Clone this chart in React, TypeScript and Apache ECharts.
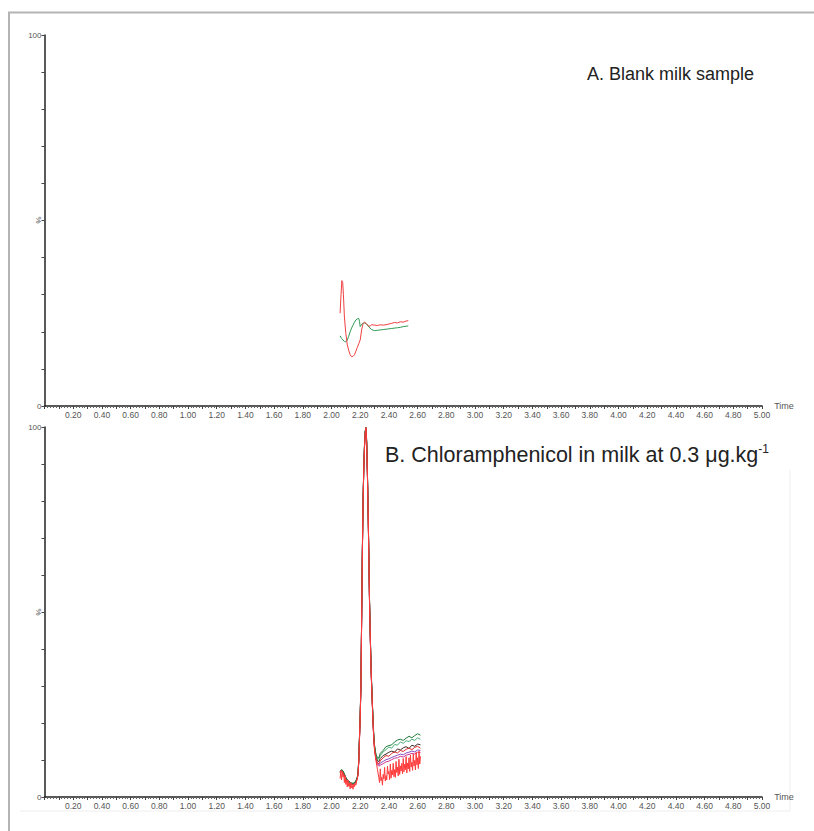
import React, { useEffect, useRef } from "react";
import * as echarts from "echarts";

// ---------- Data ----------
const X_MIN = 0;
const X_MAX = 5;
const Y_MAX = 100;

// Panel A: blank milk sample (time, % intensity)
const A_RED: number[][] = [
  [2.06, 25], [2.065, 29], [2.072, 33.8], [2.078, 33.3], [2.083, 30], [2.09, 24],
  [2.1, 19.5], [2.11, 16.5], [2.12, 15], [2.13, 13.8], [2.14, 13.3], [2.15, 13.4],
  [2.16, 13.8], [2.17, 14.8], [2.18, 15.8], [2.19, 16.8], [2.2, 17.8], [2.21, 20.5],
  [2.22, 22.2], [2.23, 22.6], [2.24, 22.3], [2.25, 21.9], [2.26, 21.5], [2.27, 21.6],
  [2.28, 21.9], [2.3, 21.8], [2.32, 21.7], [2.34, 21.9], [2.36, 21.8], [2.38, 21.9],
  [2.4, 22.1], [2.42, 22.3], [2.44, 22.5], [2.46, 22.4], [2.48, 22.7], [2.5, 22.6],
  [2.52, 22.9], [2.535, 23],
];
const A_GREEN: number[][] = [
  [2.06, 18.9], [2.07, 18.2], [2.08, 17.8], [2.09, 17.4], [2.1, 17.3], [2.11, 17.8],
  [2.12, 18.8], [2.13, 20], [2.14, 21], [2.15, 21.8], [2.16, 22.6], [2.17, 23.2],
  [2.18, 23.5], [2.19, 23.6], [2.195, 22.8], [2.2, 21.4], [2.21, 22], [2.22, 22.3],
  [2.23, 22.4], [2.245, 22.1], [2.26, 21.3], [2.28, 20.6], [2.3, 20.3], [2.32, 20.4],
  [2.34, 20.5], [2.36, 20.6], [2.38, 20.7], [2.4, 20.8], [2.42, 20.9], [2.44, 21.0],
  [2.46, 21.1], [2.48, 21.2], [2.5, 21.4], [2.52, 21.5], [2.535, 21.6],
];

// Panel B: chloramphenicol 0.3 µg/kg, several transitions sharing a time grid
const B_X = [
  2.06, 2.07, 2.08, 2.09, 2.1, 2.11, 2.12, 2.13, 2.14, 2.15, 2.16, 2.17, 2.18, 2.185,
  2.19, 2.195, 2.2, 2.205, 2.21, 2.215, 2.22, 2.225, 2.23, 2.235, 2.24, 2.245, 2.25,
  2.255, 2.26, 2.265, 2.27, 2.275, 2.28, 2.285, 2.29, 2.295, 2.3, 2.31, 2.32, 2.33,
  2.34, 2.36, 2.38, 2.4, 2.42, 2.44, 2.46, 2.48, 2.5, 2.52, 2.54, 2.56, 2.58, 2.6, 2.62,
];
const B_GREEN = [
  6.9, 7.4, 7.1, 6.2, 5.3, 4.7, 4.3, 4.0, 3.8, 3.7, 3.9, 4.4, 5.4, 6.8, 10.2, 16.5, 22.5,
  30.5, 48.5, 66.5, 80.5, 89.5, 95.5, 99, 100, 96.5, 88.5, 78.5, 66.5, 53.5, 44.5, 36.5,
  30.5, 25.5, 20.5, 16.5, 14, 11.5, 10.6, 10.6,
  11.8, 12.6, 13.6, 13.9, 14.1, 14.9, 15.4, 15.6, 15.3, 15.9, 16.4, 16.0, 16.6, 17.1, 16.7,
];
const B_TEAL = [
  6.7, 7.2, 6.9, 6.0, 5.1, 4.5, 4.1, 3.8, 3.6, 3.5, 3.7, 4.2, 5.2, 6.5, 9.8, 16, 22, 30,
  48, 66, 80, 89, 95, 98.8, 99.6, 96, 88, 78, 66, 53, 44, 36, 30, 25, 20, 16, 13.6, 11.2,
  10.2, 10.3,
  11.2, 12.2, 12.8, 13.5, 13.2, 14.2, 14.0, 14.9, 14.5, 15.2, 15.0, 15.6, 15.3, 16.0, 15.6,
];
const B_BLACK = [
  6.8, 7.3, 7.0, 6.1, 5.2, 4.6, 4.2, 3.9, 3.7, 3.6, 3.8, 4.3, 5.3, 6.6, 10, 16.2, 22.2,
  30.2, 48.2, 66.2, 80.2, 89.2, 95.2, 98.9, 99.8, 96.2, 88.2, 78.2, 66.2, 53.2, 44.2, 36.2,
  30.2, 25.2, 20.2, 16.2, 13.7, 11, 9.8, 9.6,
  10.4, 11.2, 11.6, 12.1, 12.4, 12.1, 13.0, 12.7, 13.3, 13.6, 13.1, 14.0, 13.7, 14.3, 14.1,
];
const B_PURPLE = [
  6.6, 7.1, 6.8, 5.9, 5.0, 4.4, 4.0, 3.7, 3.5, 3.4, 3.6, 4.1, 5.1, 6.4, 9.7, 15.8, 21.8,
  29.8, 47.8, 65.8, 79.8, 88.8, 94.8, 98.6, 99.5, 95.8, 87.8, 77.8, 65.8, 52.8, 43.8, 35.8,
  29.8, 24.8, 19.8, 15.8, 13.2, 10.4, 9.0, 8.6,
  9.2, 9.6, 10.1, 10.3, 10.7, 11.0, 11.3, 11.6, 11.4, 11.9, 12.1, 12.4, 12.2, 12.7, 12.6,
];
const B_MAGENTA = [
  6.5, 7.0, 6.7, 5.8, 4.9, 4.3, 3.9, 3.6, 3.4, 3.3, 3.5, 4.0, 5.0, 6.3, 9.6, 15.7, 21.7,
  29.7, 47.7, 65.7, 79.7, 88.7, 94.7, 98.5, 99.4, 95.7, 87.7, 77.7, 65.7, 52.7, 43.7, 35.7,
  29.7, 24.7, 19.7, 15.7, 13.0, 10.1, 8.7, 8.3,
  8.6, 9.0, 9.5, 9.7, 10.1, 10.5, 10.6, 11.0, 10.8, 11.3, 11.5, 11.8, 11.6, 12.1, 12.0,
];
const B_RED = [
  6.5, 7.0, 6.7, 5.8, 4.9, 4.3, 3.9, 3.6, 3.4, 3.3, 3.5, 4.0, 5.0, 6.3, 9.6, 15.6, 21.6,
  29.6, 47.6, 65.6, 79.6, 88.6, 94.6, 98.5, 99.7, 95.6, 87.6, 77.6, 65.6, 52.6, 43.6, 35.6,
  29.6, 24.6, 19.6, 15.6, 13, 10.2, 9.2, 9.0,
  9.8, 10.6, 11.2, 11.0, 11.8, 12.2, 11.9, 12.6, 12.3, 12.9, 13.2, 12.8, 13.4, 13.7, 13.2,
];
// noisy red transition
const B_RED_NOISY: number[][] = [
  [2.06, 5.0], [2.065, 7.2], [2.07, 4.6], [2.075, 6.9], [2.08, 5.4], [2.085, 6.0],
  [2.09, 3.9], [2.095, 5.7], [2.1, 3.4], [2.105, 4.4], [2.11, 2.7], [2.115, 4.6],
  [2.12, 2.9], [2.125, 3.5], [2.13, 2.2], [2.135, 3.9], [2.14, 2.5], [2.145, 3.1],
  [2.15, 2.1], [2.155, 3.5], [2.16, 2.8], [2.165, 3.6], [2.17, 3.2], [2.175, 4.3],
  [2.18, 4.8], [2.185, 6.2], [2.19, 9.5], [2.195, 15.5], [2.2, 21.5], [2.205, 29.5],
  [2.21, 47.5], [2.215, 65.5], [2.22, 79.5], [2.225, 88.5], [2.23, 94.5], [2.235, 98.4],
  [2.24, 99.9], [2.245, 95.5], [2.25, 87.5], [2.255, 77.5], [2.26, 65.5], [2.265, 52.5],
  [2.27, 43.5], [2.275, 35.5], [2.28, 29.5], [2.285, 24.5], [2.29, 19.5], [2.295, 15.5],
  [2.3, 12.5], [2.31, 9.8], [2.32, 7.5], [2.33, 5.2],
  [2.335, 3.9], [2.34, 7.6], [2.345, 4.4], [2.35, 5.3], [2.355, 3.2], [2.36, 6.1],
  [2.365, 4.9], [2.37, 8.0], [2.375, 4.3], [2.38, 5.8], [2.385, 4.6], [2.39, 8.3],
  [2.395, 6.2], [2.4, 6.9], [2.405, 4.7], [2.41, 8.9], [2.415, 5.1], [2.42, 7.2],
  [2.425, 6.0], [2.43, 9.1], [2.435, 5.5], [2.44, 7.4], [2.445, 5.3], [2.45, 9.6],
  [2.455, 6.6], [2.46, 8.1], [2.465, 5.7], [2.47, 10.2], [2.475, 6.1], [2.48, 8.4],
  [2.485, 7.0], [2.49, 9.1], [2.495, 6.3], [2.5, 10.4], [2.505, 6.8], [2.51, 8.9],
  [2.515, 7.4], [2.52, 10.9], [2.525, 6.5], [2.53, 9.2], [2.535, 7.6], [2.54, 10.6],
  [2.545, 6.9], [2.55, 11.3], [2.555, 8.1], [2.56, 9.4], [2.565, 7.2], [2.57, 11.6],
  [2.575, 8.4], [2.58, 9.9], [2.585, 7.3], [2.59, 12.1], [2.595, 8.7], [2.6, 10.6],
  [2.605, 7.7], [2.61, 12.4], [2.615, 8.9], [2.62, 11.0],
];

const TITLE_A = "A. Blank milk sample";
const TITLE_B = "B. Chloramphenicol in milk at 0.3 μg.kg";
const TITLE_B_SUP = "-1";
const Y_NAME = "%";

// ---------- helpers ----------
const FONT = "Liberation Sans, Arial, sans-serif";
const zip = (xs: number[], ys: number[]) => xs.map((x, i) => [x, ys[i]]);

function xLabel(v: number) {
  const k = Math.round(v * 10);
  if (k === 0 || k % 2 !== 0) return "";
  return (k / 10).toFixed(2);
}

function makeX(gridIndex: number) {
  return {
    type: "value",
    gridIndex,
    min: X_MIN,
    max: X_MAX,
    interval: 0.1,
    name: "Time",
    nameLocation: "end",
    nameGap: 4,
    nameTextStyle: { fontSize: 9, color: "#555", fontFamily: FONT },
    axisLine: { show: true, onZero: false, lineStyle: { color: "#222", width: 1.5 } },
    axisTick: { show: true, length: 3, lineStyle: { color: "#444", width: 1 } },
    minorTick: { show: true, splitNumber: 5, length: 2, lineStyle: { color: "#666", width: 1 } },
    axisLabel: { formatter: xLabel, fontSize: 8.5, color: "#555", margin: 4, fontFamily: FONT },
    splitLine: { show: false },
  };
}

function makeY(gridIndex: number) {
  return {
    type: "value",
    gridIndex,
    min: 0,
    max: Y_MAX,
    interval: 10,
    axisLine: { show: true, lineStyle: { color: "#222", width: 1.5 } },
    axisTick: { show: true, length: 3, lineStyle: { color: "#444", width: 1 } },
    axisLabel: {
      formatter: (v: number) => (v === 0 || v === 100 ? String(v) : ""),
      fontSize: 8,
      color: "#555",
      margin: 3,
      fontFamily: FONT,
    },
    splitLine: { show: false },
  };
}

function line(name: string, data: number[][], color: string, xi: number, z = 2) {
  return {
    name,
    type: "line",
    xAxisIndex: xi,
    yAxisIndex: xi,
    data,
    showSymbol: false,
    symbol: "none",
    smooth: false,
    z,
    lineStyle: { color, width: 1 },
  };
}

export default function App() {
  const ref = useRef<HTMLDivElement>(null);
  useEffect(() => {
    if (!ref.current) return;
    const chart = echarts.init(ref.current, null, { renderer: "svg" });
    const pctLabel = (y: number) => ({
      type: "text",
      x: 38,
      y,
      rotation: -Math.PI / 2,
      style: {
        text: Y_NAME,
        font: `8px ${FONT}`,
        fill: "#555",
        textAlign: "center",
        textVerticalAlign: "middle",
      },
    });
    chart.setOption({
      animation: false,
      backgroundColor: "#fff",
      grid: [
        { left: 44.5, right: 52, top: 35, height: 371 },
        { left: 44.5, right: 52, top: 427, height: 370 },
      ],
      xAxis: [makeX(0), makeX(1)],
      yAxis: [makeY(0), makeY(1)],
      series: [
        line("A green", A_GREEN, "#2f9a55", 0),
        line("A red", A_RED, "#f04040", 0, 3),
        line("B purple", zip(B_X, B_PURPLE), "#8a4fbf", 1),
        line("B magenta", zip(B_X, B_MAGENTA), "#d0358f", 1),
        line("B black", zip(B_X, B_BLACK), "#3a2a20", 1),
        line("B teal", zip(B_X, B_TEAL), "#4cae78", 1),
        line("B green", zip(B_X, B_GREEN), "#1f7a3a", 1),
        line("B red", zip(B_X, B_RED), "#e02a2a", 1),
        line("B red noisy", B_RED_NOISY, "#ff3a3a", 1, 3),
      ],
      graphic: [
        { type: "line", shape: { x1: 8, y1: 12.5, x2: 814, y2: 12.5 }, style: { stroke: "#b4b4b4", lineWidth: 2 } },
        { type: "line", shape: { x1: 9, y1: 12, x2: 9, y2: 831 }, style: { stroke: "#b4b4b4", lineWidth: 2 } },
        { type: "line", shape: { x1: 790, y1: 470, x2: 790, y2: 811 }, style: { stroke: "#eeeeee", lineWidth: 1 } },
        { type: "line", shape: { x1: 20, y1: 811, x2: 790, y2: 811 }, style: { stroke: "#eeeeee", lineWidth: 1 } },
        pctLabel(220),
        pctLabel(612),
        {
          type: "text",
          x: 587,
          y: 74,
          style: { text: TITLE_A, font: `18px ${FONT}`, fill: "#222", textVerticalAlign: "middle" },
        },
        {
          type: "text",
          x: 385,
          y: 455,
          style: {
            text: `{a|${TITLE_B}}{s|${TITLE_B_SUP}}`,
            fill: "#222",
            textVerticalAlign: "middle",
            rich: {
              a: { fontSize: 21.5, fontFamily: FONT, fill: "#222", lineHeight: 24 },
              s: { fontSize: 12, fontFamily: FONT, fill: "#222", verticalAlign: "top", lineHeight: 24 },
            },
          },
        },
      ],
    });
    return () => chart.dispose();
  }, []);
  return (
    <div
      ref={ref}
      style={{ position: "fixed", left: 0, top: 0, width: 814, height: 831, background: "#fff" }}
    />
  );
}
